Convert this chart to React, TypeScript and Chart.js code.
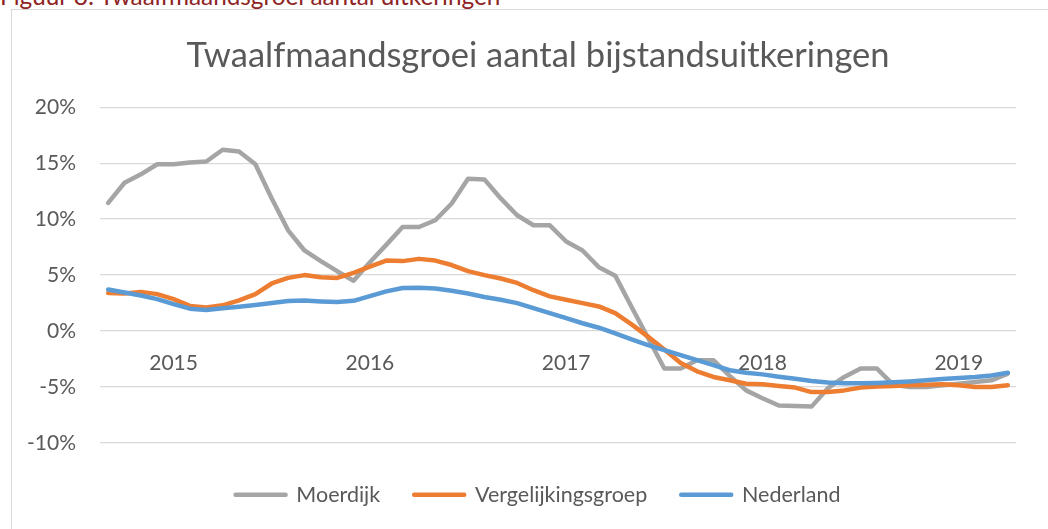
import React, { useEffect, useRef } from 'react';
import { Chart, registerables } from 'chart.js';

Chart.register(...registerables);

const FONT = 'Lato, "Noto Sans", sans-serif';
const TEXT = '#595959';

const caption = 'Figuur 8: Twaalfmaandsgroei aantal uitkeringen';
const chartTitle = 'Twaalfmaandsgroei aantal bijstandsuitkeringen';

const months: string[] = [
  '2014-09', '2014-10', '2014-11', '2014-12',
  '2015-01', '2015-02', '2015-03', '2015-04', '2015-05', '2015-06', '2015-07', '2015-08', '2015-09', '2015-10', '2015-11', '2015-12',
  '2016-01', '2016-02', '2016-03', '2016-04', '2016-05', '2016-06', '2016-07', '2016-08', '2016-09', '2016-10', '2016-11', '2016-12',
  '2017-01', '2017-02', '2017-03', '2017-04', '2017-05', '2017-06', '2017-07', '2017-08', '2017-09', '2017-10', '2017-11', '2017-12',
  '2018-01', '2018-02', '2018-03', '2018-04', '2018-05', '2018-06', '2018-07', '2018-08', '2018-09', '2018-10', '2018-11', '2018-12',
  '2019-01', '2019-02', '2019-03', '2019-04',
];

const seriesNames = ['Moerdijk', 'Vergelijkingsgroep', 'Nederland'];
const seriesColors = ['#A5A5A5', '#ED7D31', '#5B9BD5'];

const moerdijk: number[] = [
  11.45, 13.25, 14.0, 14.9,
  14.9, 15.05, 15.15, 16.2, 16.05, 14.9, 11.85, 9.0, 7.2, 6.25, 5.35, 4.5,
  6.15, 7.7, 9.3, 9.3, 9.9, 11.4, 13.6, 13.55, 11.85, 10.35, 9.45, 9.45,
  8.0, 7.2, 5.7, 4.95, 2.15, -0.6, -3.35, -3.35, -2.6, -2.6, -4.0, -5.3,
  -6.0, -6.65, -6.7, -6.75, -5.1, -4.1, -3.35, -3.35, -4.8, -5.0, -5.0, -4.85,
  -4.7, -4.55, -4.4, -3.8,
];

const vergelijkingsgroep: number[] = [
  3.4, 3.35, 3.5, 3.3,
  2.85, 2.25, 2.1, 2.3, 2.75, 3.3, 4.25, 4.75, 5.0, 4.8, 4.75, 5.2,
  5.75, 6.3, 6.25, 6.45, 6.3, 5.9, 5.35, 5.0, 4.7, 4.3, 3.65, 3.1,
  2.8, 2.5, 2.2, 1.6, 0.6, -0.5, -1.65, -2.85, -3.6, -4.1, -4.4, -4.7,
  -4.75, -4.9, -5.05, -5.45, -5.45, -5.3, -5.05, -4.95, -4.9, -4.85, -4.8, -4.75,
  -4.85, -5.0, -5.0, -4.85,
];

const nederland: number[] = [
  3.72, 3.45, 3.18, 2.85,
  2.4, 2.0, 1.88, 2.03, 2.17, 2.32, 2.5, 2.68, 2.72, 2.65, 2.6, 2.7,
  3.12, 3.55, 3.85, 3.88, 3.8, 3.6, 3.35, 3.05, 2.8, 2.5, 2.05, 1.6,
  1.15, 0.7, 0.3, -0.2, -0.75, -1.25, -1.7, -2.15, -2.6, -3.05, -3.5, -3.72,
  -3.87, -4.08, -4.26, -4.46, -4.6, -4.67, -4.67, -4.64, -4.58, -4.5, -4.4, -4.28,
  -4.2, -4.1, -3.96, -3.72,
];

const seriesValues = [moerdijk, vergelijkingsgroep, nederland];

const yMin = -10;
const yMax = 20;
const yStep = 5;

function ChartBox() {
  const canvasRef = useRef<HTMLCanvasElement | null>(null);

  useEffect(() => {
    const canvas = canvasRef.current;
    if (!canvas) return;
    const chart = new Chart(canvas, {
      type: 'line',
      data: {
        labels: months,
        datasets: seriesNames.map((name, i) => ({
          label: name,
          data: seriesValues[i],
          borderColor: seriesColors[i],
          backgroundColor: seriesColors[i],
          borderWidth: 4.5,
          borderJoinStyle: 'round' as const,
          borderCapStyle: 'round' as const,
          pointRadius: 0,
          pointHoverRadius: 0,
          tension: 0,
          fill: false,
          order: seriesNames.length - i,
        })),
      },
      options: {
        responsive: false,
        animation: false,
        events: [],
        layout: { padding: { left: 11, right: 5, top: 0, bottom: 13.5 } },
        scales: {
          x: {
            type: 'category',
            offset: true,
            position: { y: 0 },
            grid: { display: false, drawTicks: false },
            border: { display: false },
            ticks: {
              autoSkip: false,
              maxRotation: 0,
              minRotation: 0,
              padding: 20,
              color: TEXT,
              font: { family: FONT, size: 21 },
              callback: (_v: any, index: number) => {
                const m = months[index];
                return m.endsWith('-01') ? m.slice(0, 4) : '';
              },
            },
          },
          y: {
            type: 'linear',
            position: 'left',
            min: yMin,
            max: yMax,
            grid: { color: '#D9D9D9', lineWidth: 1.3, drawTicks: false },
            border: { display: false },
            ticks: {
              stepSize: yStep,
              padding: 24,
              color: TEXT,
              font: { family: FONT, size: 21 },
              callback: (v: any) => `${v}%`,
            },
            afterFit: (s: any) => {
              s.width = 89;
            },
          },
          yR: {
            type: 'linear',
            position: 'right',
            display: true,
            grid: { display: false, drawTicks: false },
            border: { display: false },
            ticks: { display: false },
            afterFit: (s: any) => {
              s.width = 49;
            },
          },
        },
        plugins: {
          tooltip: { enabled: false },
          title: {
            display: true,
            text: chartTitle,
            color: TEXT,
            font: { family: FONT, size: 34.5, weight: 'normal' },
            padding: { top: 35.3, bottom: 30.5 },
          },
          legend: {
            display: true,
            position: 'bottom',
            title: {
              display: true,
              text: '',
              font: { size: 1, lineHeight: 1 },
              padding: { top: 6, bottom: 0 },
            },
            labels: {
              usePointStyle: true,
              pointStyle: 'line',
              pointStyleWidth: 50,
              padding: 34,
              color: TEXT,
              font: { family: FONT, size: 21.5 },
              generateLabels: () =>
                seriesNames.map((name, i) => ({
                  text: name,
                  fillStyle: seriesColors[i],
                  strokeStyle: seriesColors[i],
                  lineWidth: 4.5,
                  lineCap: 'round',
                  pointStyle: 'line',
                  hidden: false,
                  fontColor: TEXT,
                  datasetIndex: i,
                })),
            },
          },
        },
      } as any,
    });
    return () => chart.destroy();
  }, []);

  return (
    <canvas
      ref={canvasRef}
      width={1070}
      height={529}
      style={{ position: 'absolute', left: 0, top: 0, width: 1070, height: 529 }}
    />
  );
}

export default function App() {
  return (
    <div
      style={{
        position: 'fixed',
        left: 0,
        top: 0,
        width: 1048,
        height: 529,
        overflow: 'hidden',
        background: '#FFFFFF',
      }}
    >
      <div
        style={{
          position: 'absolute',
          left: 0,
          top: -16.4,
          fontFamily: FONT,
          fontSize: 24.3,
          lineHeight: '24px',
          color: '#8E2424',
          whiteSpace: 'nowrap',
        }}
      >
        {caption}
      </div>
      <div
        style={{
          position: 'absolute',
          left: 11,
          top: 9,
          width: 1100,
          height: 600,
          border: '1px solid #D9D9D9',
          background: '#FFFFFF',
        }}
      />
      <ChartBox />
    </div>
  );
}
